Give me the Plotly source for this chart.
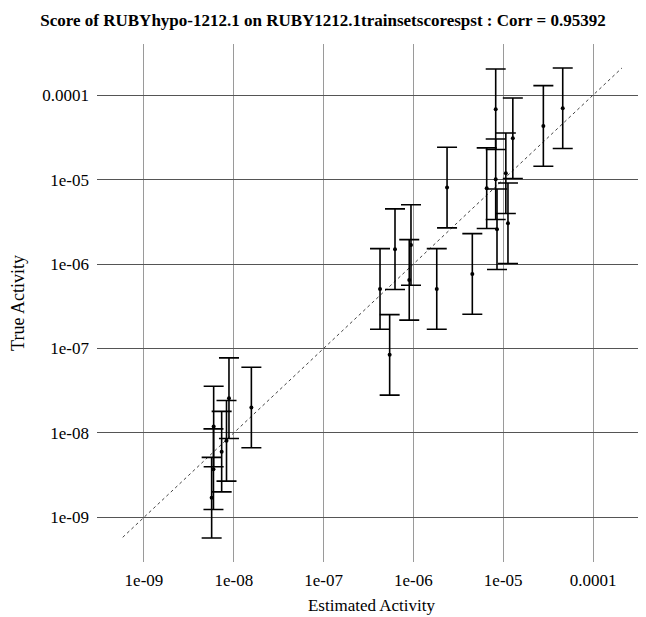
import plotly.graph_objects as go

# Estimated (x) and true (y) activity for each compound
est_activity = [8.84e-9, 1.57e-8, 5.97e-9, 8.3e-9, 7.33e-9, 5.94e-9, 5.67e-9,
                2.37e-6, 9.4e-7, 6.24e-7, 8.99e-7, 4.25e-7, 1.82e-6, 4.53e-6, 5.44e-7,
                8.25e-6, 4.6e-5, 2.8e-5, 1.28e-5, 1.07e-5, 8.25e-6, 6.55e-6, 8.53e-6, 1.13e-5]
true_activity = [2.58e-8, 2.0e-8, 1.19e-8, 8.05e-9, 6.0e-9, 3.72e-9, 1.71e-9,
                 8.04e-6, 1.68e-6, 1.50e-6, 6.49e-7, 5.07e-7, 5.07e-7, 7.64e-7, 8.4e-8,
                 6.81e-5, 7.0e-5, 4.32e-5, 3.09e-5, 1.19e-5, 1.01e-5, 7.91e-6, 2.58e-6, 3.04e-6]
# multiplicative uncertainty factor of the true activity (error bar = y/f .. y*f)
err_factor = [3.0] * 24

# reference diagonal (y = x)
diag_x = [5.8e-10, 2.1e-4]
diag_y = [5.8e-10, 2.1e-4]

tick_vals = [1e-9, 1e-8, 1e-7, 1e-6, 1e-5, 1e-4]
tick_text = ["1e-09", "1e-08", "1e-07", "1e-06", "1e-05", "0.0001"]

title = "Score of RUBYhypo-1212.1 on RUBY1212.1trainsetscorespst : Corr = 0.95392"

err_plus = [y * f - y for y, f in zip(true_activity, err_factor)]
err_minus = [y - y / f for y, f in zip(true_activity, err_factor)]

font_family = "Liberation Serif, Times New Roman, serif"

# the page body has an 8px margin; figure is sized so it fills the 646x617 window
W, H = 638, 609

fig = go.Figure()
fig.add_trace(go.Scatter(
    x=diag_x, y=diag_y, mode="lines",
    line=dict(color="#444444", width=1, dash="dot"),
    hoverinfo="skip", showlegend=False))
fig.add_trace(go.Scatter(
    x=est_activity, y=true_activity, mode="markers",
    marker=dict(color="black", size=4),
    error_y=dict(type="data", symmetric=False, array=err_plus, arrayminus=err_minus,
                 color="black", thickness=1.6, width=10),
    showlegend=False))

fig.update_layout(
    width=W, height=H,
    margin=dict(l=89, r=0, t=36, b=55),
    paper_bgcolor="white", plot_bgcolor="white",
    font=dict(family=font_family, size=17, color="black"),
    title=dict(text="<b>" + title + "</b>", x=315 / W, xref="container", xanchor="center",
               y=1 - 12 / H, yref="container", yanchor="middle",
               font=dict(family=font_family, size=17, color="black")),
)
fig.update_xaxes(
    type="log", range=[-9.523, -3.41],
    tickvals=tick_vals, ticktext=tick_text,
    showgrid=True, gridcolor="#9a9a9a", gridwidth=1,
    zeroline=False, showline=False, ticks="",
    ticklabelstandoff=6,
    title=dict(text="Estimated Activity", standoff=10,
               font=dict(family=font_family, size=17)),
)
fig.update_yaxes(
    type="log", range=[-9.529, -3.394],
    tickvals=tick_vals, ticktext=tick_text,
    showgrid=True, gridcolor="#555555", gridwidth=1,
    zeroline=False, showline=False, ticks="",
    ticklabelstandoff=7,
    title=dict(text="True Activity", standoff=22,
               font=dict(family=font_family, size=18)),
)

fig.write_html("out.html")
